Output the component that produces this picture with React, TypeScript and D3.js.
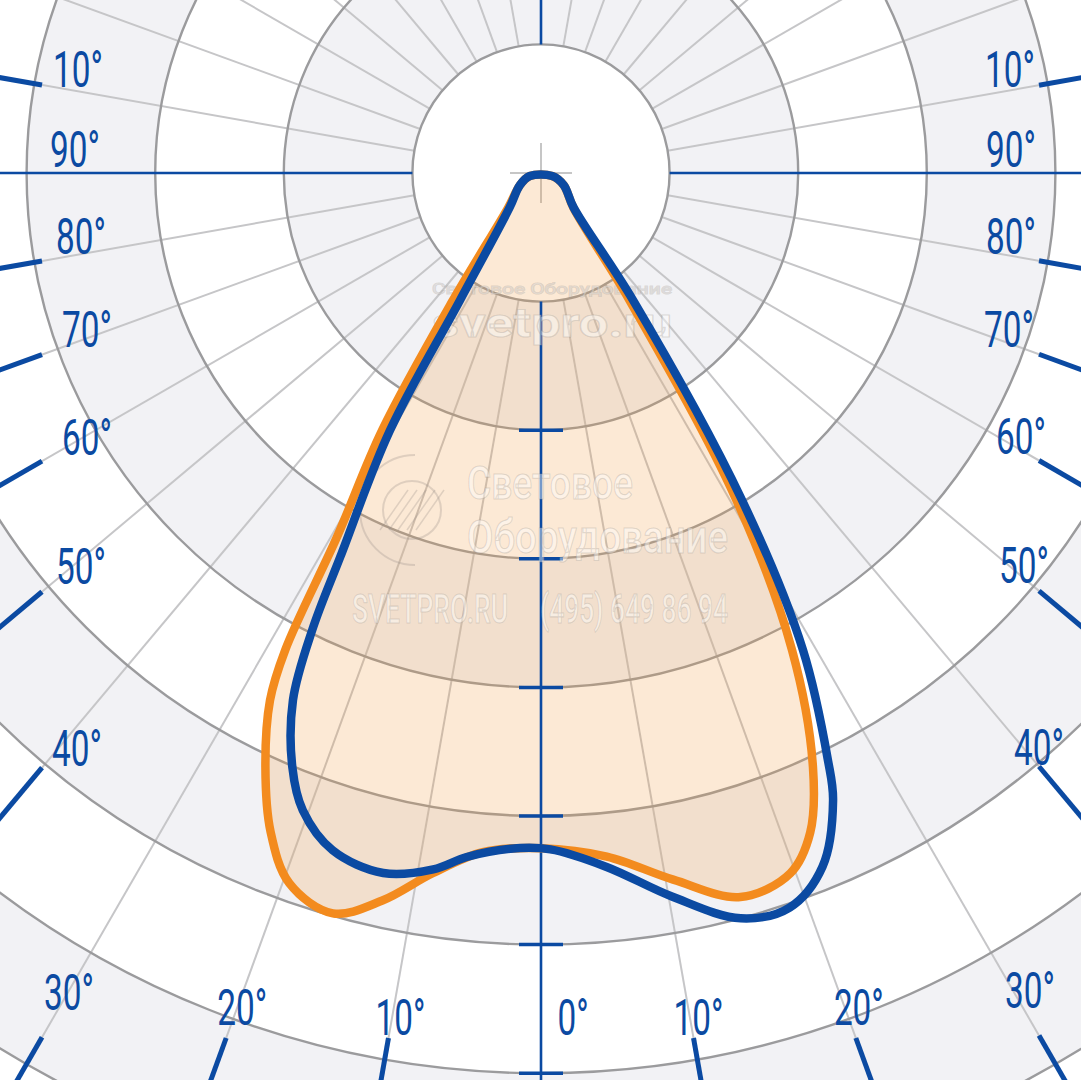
import React, { useEffect } from 'react';
import * as d3 from 'd3';

const WIDTH = 1081;
const HEIGHT = 1080;
const CENTER_X = 541;
const CENTER_Y = 173;
const RING_PX = 128.6;

// Intensity rings (one ring = 100 units)
const ringValues = [100, 200, 300, 400, 500, 600, 700, 800, 900, 1000];
const axisTickValues = [200, 300, 400, 500, 600, 700, 800];
// Angular grid (degrees from nadir, positive = right)
const gridAngles = [-170, -160, -150, -140, -130, -120, -110, -100, -80, -70, -60, -50, -40, -30, -20, -10,
  10, 20, 30, 40, 50, 60, 70, 80, 100, 110, 120, 130, 140, 150, 160, 170];
const axisAngles = [0, 90, -90, 180];
const labelAngles = [-100, -90, -80, -70, -60, -50, -40, -30, -20, -10, 0, 10, 20, 30, 40, 50, 60, 70, 80, 90, 100];
const labelTexts = ['10°', '90°', '80°', '70°', '60°', '50°', '40°', '30°', '20°', '10°', '0°', '10°', '20°', '30°', '40°', '50°', '60°', '70°', '80°', '90°', '10°'];
const tickAngles = [-100, -80, -70, -60, -50, -40, -30, -20, -10, 10, 20, 30, 40, 50, 60, 70, 80, 100];

// Curve C0-C180 (orange, filled)
const orangeAngles = [-75, -60, -43.5, -34.7, -31.7, -29.3, -28.2, -27.2, -24.9, -22.3, -19.5, -15.7, -12.3, -8.8, -4.9, 0, 5.5, 10.6, 15.4, 19.6, 22.2, 24.6, 27.76, 30.91, 34.8, 43, 62, 75];
const orangeValues = [9, 19, 37, 120, 235, 323, 421, 461, 509, 554, 586, 598, 579, 551, 530, 525, 534, 559, 584, 578, 554, 508, 419, 294, 121, 37, 20, 9];
// Curve C90-C270 (blue)
const blueAngles = [-75, -60, -42.4, -32.5, -30.4, -27.6, -26.6, -25.2, -22.7, -20.5, -17.1, -12.7, -8.8, -6.2, -2.6, 0.8, 5.4, 10.3, 15, 18.7, 22.1, 24.97, 26.05, 28.78, 31.58, 35.9, 43.3, 62, 75];
const blueValues = [9, 19, 36, 117, 232, 337, 397, 453, 501, 529, 551, 558, 548, 535, 526, 526, 542, 572, 600, 603, 582, 538, 508, 423, 298, 122, 37, 20, 9];

// label layout offsets (px) relative to the frame point of each angle
const labelOffsets: [number, number][] = [
  [36, -16], [33, -24], [39, -24], [45, -25], [45, -24], [39, -25], [35, -19], [27, -45], [16, -31], [12, -21], [32, -21],
  [5, -21], [3, -31], [-9, -45], [0, -19], [-15, -25], [-18, -24], [-30, -25], [-28, -24], [-28, -24], [-29, -16],
];

const BLUE = '#0b4aa2';
const ORANGE = '#f38b1e';
const BAND = '#f2f2f5';
const RING_COLOR = '#9b9b9d';
const RADIAL_COLOR = '#c6c6c8';

const rScale = d3.scaleLinear().domain([0, 100]).range([0, RING_PX]);

const polar = (deg: number, r: number): [number, number] => {
  const a = (deg * Math.PI) / 180;
  return [CENTER_X + r * Math.sin(a), CENTER_Y + r * Math.cos(a)];
};

const INSET = 42;
const framePoint = (deg: number): [number, number] => {
  const a = (deg * Math.PI) / 180;
  const dx = Math.sin(a);
  const dy = Math.cos(a);
  const ts: number[] = [];
  if (dx < -1e-6) ts.push((INSET - CENTER_X) / dx);
  if (dx > 1e-6) ts.push((WIDTH - INSET - CENTER_X) / dx);
  if (dy > 1e-6) ts.push((HEIGHT - INSET - CENTER_Y) / dy);
  const t = Math.min(...ts);
  return [CENTER_X + t * dx, CENTER_Y + t * dy];
};

const radialLine = d3
  .lineRadial<[number, number]>()
  .angle((d) => Math.PI - (d[0] * Math.PI) / 180)
  .radius((d) => rScale(d[1]))
  .curve(d3.curveCatmullRomClosed.alpha(0.5));

const WM_SX = 0.67;

function WText(props: { x: number; y: number; w: number; size: number; weight?: number; anchor?: string; children: string }) {
  const { x, y, w, size, weight = 500, anchor = 'start', children } = props;
  return (
    <text
      transform={`translate(${x},${y}) scale(${WM_SX},1)`}
      fontSize={size}
      fontWeight={weight}
      textAnchor={anchor}
      textLength={w / WM_SX}
      lengthAdjust="spacingAndGlyphs"
      fill="#ffffff"
      fillOpacity={0.45}
      stroke="#9a928a"
      strokeOpacity={0.3}
      strokeWidth={1.1}
    >
      {children}
    </text>
  );
}

export default function App() {
  useEffect(() => {
    document.body.style.margin = '0';
  }, []);

  const orangePts = orangeAngles.map((a, i) => [a, orangeValues[i]] as [number, number]);
  const bluePts = blueAngles.map((a, i) => [a, blueValues[i]] as [number, number]);
  const orangePath = radialLine(orangePts) || '';
  const bluePath = radialLine(bluePts) || '';

  const bands = ringValues
    .map((v, k) => ({ r: rScale(v + 100), fill: k % 2 === 0 ? BAND : '#ffffff' }))
    .reverse();

  const rIn = rScale(100);
  const rOut = rScale(1000);

  return (
    <svg width={WIDTH} height={HEIGHT} style={{ position: 'fixed', left: 0, top: 0, display: 'block', background: '#fff' }}>
      <rect width={WIDTH} height={HEIGHT} fill="#ffffff" />
      {bands.map((b, i) => (
        <circle key={'b' + i} cx={CENTER_X} cy={CENTER_Y} r={b.r} fill={b.fill} />
      ))}
      <circle cx={CENTER_X} cy={CENTER_Y} r={rIn} fill="#ffffff" />
      {gridAngles.map((a) => {
        const [x1, y1] = polar(a, rIn);
        const [x2, y2] = polar(a, rOut);
        return <line key={'g' + a} x1={x1} y1={y1} x2={x2} y2={y2} stroke={RADIAL_COLOR} strokeWidth={2} />;
      })}
      {ringValues.map((v) => (
        <circle key={'r' + v} cx={CENTER_X} cy={CENTER_Y} r={rScale(v)} fill="none" stroke={RING_COLOR} strokeWidth={2.4} />
      ))}
      {/* crosshair */}
      <line x1={CENTER_X} y1={CENTER_Y - 30} x2={CENTER_X} y2={CENTER_Y + 30} stroke="#c6c6c6" strokeWidth={2} />
      <line x1={CENTER_X - 31} y1={CENTER_Y} x2={CENTER_X + 31} y2={CENTER_Y} stroke="#c6c6c6" strokeWidth={2} />

      {/* filled C0 curve */}
      <path d={orangePath} transform={`translate(${CENTER_X},${CENTER_Y})`} fill="#f39a42" fillOpacity={0.22} stroke="none" />

      {/* blue axes */}
      {axisAngles.map((a) => {
        const [x1, y1] = polar(a, rIn);
        const [x2, y2] = polar(a, rOut);
        return <line key={'ax' + a} x1={x1} y1={y1} x2={x2} y2={y2} stroke={BLUE} strokeWidth={2.6} />;
      })}
      {axisTickValues.map((v) => {
        const [x, y] = polar(0, rScale(v));
        return <line key={'t' + v} x1={x - 22} y1={y} x2={x + 22} y2={y} stroke={BLUE} strokeWidth={3.5} />;
      })}
      {tickAngles.map((a) => {
        const [x1, y1] = framePoint(a);
        const rad = (a * Math.PI) / 180;
        return (
          <line key={'lt' + a} x1={x1} y1={y1} x2={x1 + 120 * Math.sin(rad)} y2={y1 + 120 * Math.cos(rad)} stroke={BLUE} strokeWidth={5} />
        );
      })}

      {/* watermark */}
      <g style={{ fontFamily: 'Roboto, sans-serif' }}>
        <WText x={552} y={294} w={240} size={14} weight={400} anchor="middle">Световое Оборудование</WText>
        <WText x={552} y={337} w={240} size={40} weight={700} anchor="middle">svetpro.ru</WText>
        <WText x={467} y={499} w={166} size={46}>Световое</WText>
        <WText x={467} y={553} w={261} size={46}>Оборудование</WText>
        <WText x={352} y={623} w={156} size={40}>SVETPRO.RU</WText>
        <WText x={540} y={623} w={188} size={40}>(495) 649 86 94</WText>
        <path d="M 415 455 A 55 55 0 1 0 415 565" fill="none" stroke="#9a928a" strokeOpacity={0.3} strokeWidth={2} />
        <circle cx={412} cy={510} r={29} fill="none" stroke="#9a928a" strokeOpacity={0.3} strokeWidth={2} />
        {[-18, -9, 0, 9, 18].map((o) => (
          <line key={'h' + o} x1={398 + o} y1={530} x2={426 + o} y2={490} stroke="#9a928a" strokeOpacity={0.3} strokeWidth={1.5} />
        ))}
      </g>

      {/* curves */}
      <path d={orangePath} transform={`translate(${CENTER_X},${CENTER_Y})`} fill="none" stroke={ORANGE} strokeWidth={8.5} strokeLinejoin="round" />
      <path d={bluePath} transform={`translate(${CENTER_X},${CENTER_Y})`} fill="none" stroke={BLUE} strokeWidth={8.5} strokeLinejoin="round" />

      {/* angle labels */}
      <g style={{ fontFamily: 'Roboto, sans-serif' }} fill={BLUE}>
        {labelAngles.map((a, i) => {
          const [bx, by] = framePoint(a);
          const cx = bx + labelOffsets[i][0];
          const cy = by + labelOffsets[i][1];
          return (
            <text key={'l' + i} transform={`translate(${cx},${cy + 17.5}) scale(0.68,1)`} fontSize={49} fontWeight={400} textAnchor="middle">
              {labelTexts[i]}
            </text>
          );
        })}
      </g>
    </svg>
  );
}
